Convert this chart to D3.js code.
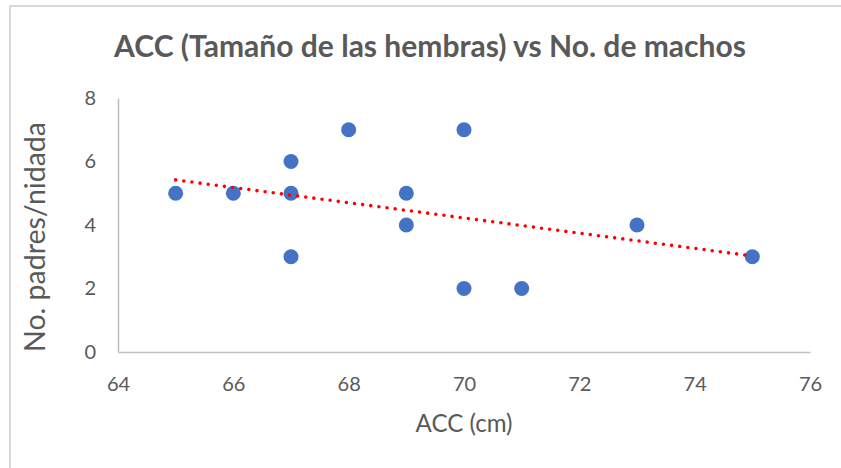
<!DOCTYPE html>
<html>
<head>
<meta charset="utf-8">
<script src="https://cdn.jsdelivr.net/npm/d3@7"></script>
<style>
  html, body { margin: 0; padding: 0; background: #fff; }
  svg { display: block; }
  text { font-family: Lato, "Open Sans", sans-serif; fill: #595959; }
</style>
</head>
<body>
<svg id="chart" width="841" height="468"></svg>
<script>
// Female body length (ACC, cm) and number of sires per clutch
const accCm = [65, 66, 67, 67, 67, 68, 69, 69, 70, 70, 71, 73, 75];
const sires = [5, 5, 6, 5, 3, 7, 5, 4, 7, 2, 2, 4, 3];
const xTicks = [64, 66, 68, 70, 72, 74, 76];
const yTicks = [0, 2, 4, 6, 8];

const titleText = "ACC (Tamaño de las hembras) vs No. de machos";
const xTitle = "ACC (cm)";
const yTitle = "No. padres/nidada";

const FONT = 'Lato, "Open Sans", sans-serif';
const svg = d3.select("#chart");
const W = 841, H = 468;
const plot = { left: 118, right: 810, top: 98, bottom: 352 };

const x = d3.scaleLinear().domain([64, 76]).range([plot.left, plot.right]);
const y = d3.scaleLinear().domain([0, 8]).range([plot.bottom, plot.top]);

// scale a text's font size so it spans the wanted width
function fitWidth(sel, width) {
  const base = 20;
  sel.attr("font-size", base);
  const w = sel.node().getComputedTextLength();
  sel.attr("font-size", base * width / w);
  return sel;
}

// chart frame
svg.append("path")
  .attr("d", `M10,${H + 5} V6 H${W + 5}`)
  .attr("fill", "none").attr("stroke", "#d9d9d9").attr("stroke-width", 2);

// title
const title = svg.append("text")
  .attr("x", 430).attr("y", 57)
  .attr("text-anchor", "middle")
  .attr("font-weight", "bold")
  .text(titleText);
fitWidth(title, 632);

// axes
const xAxis = d3.axisBottom(x).tickValues(xTicks).tickSize(0).tickPadding(25);
const yAxis = d3.axisLeft(y).tickValues(yTicks).tickSize(0).tickPadding(22);

const gx = svg.append("g").attr("transform", `translate(0,${plot.bottom})`).call(xAxis);
const gy = svg.append("g").attr("transform", `translate(${plot.left},0)`).call(yAxis);
[gx, gy].forEach(g => {
  g.select(".domain").attr("stroke", "#bfbfbf").attr("stroke-width", 1.5);
  g.selectAll("text").attr("font-size", 20).attr("fill", "#595959")
    .style("font-family", FONT);
});

// axis titles
const xt = svg.append("text")
  .attr("x", 464).attr("y", 432)
  .attr("text-anchor", "middle")
  .text(xTitle);
fitWidth(xt, 97);
const yt = svg.append("text")
  .attr("transform", `translate(45,237) rotate(-90)`)
  .attr("text-anchor", "middle")
  .text(yTitle);
fitWidth(yt, 230);

// points
const pts = accCm.map((v, i) => ({ x: v, y: sires[i] }));
svg.append("g").selectAll("circle")
  .data(pts).join("circle")
  .attr("cx", d => x(d.x)).attr("cy", d => y(d.y))
  .attr("r", 7.5).attr("fill", "#4472c4");

// least-squares trend line
const mx = d3.mean(accCm), my = d3.mean(sires);
const sxy = d3.sum(accCm, (v, i) => (v - mx) * (sires[i] - my));
const sxx = d3.sum(accCm, v => (v - mx) ** 2);
const slope = sxy / sxx, intercept = my - slope * mx;
const [x0, x1] = d3.extent(accCm);
svg.append("line")
  .attr("x1", x(x0)).attr("y1", y(intercept + slope * x0))
  .attr("x2", x(x1)).attr("y2", y(intercept + slope * x1))
  .attr("stroke", "#ff0000").attr("stroke-width", 3.6)
  .attr("stroke-linecap", "round").attr("stroke-dasharray", "0 8.2");
</script>
</body>
</html>
